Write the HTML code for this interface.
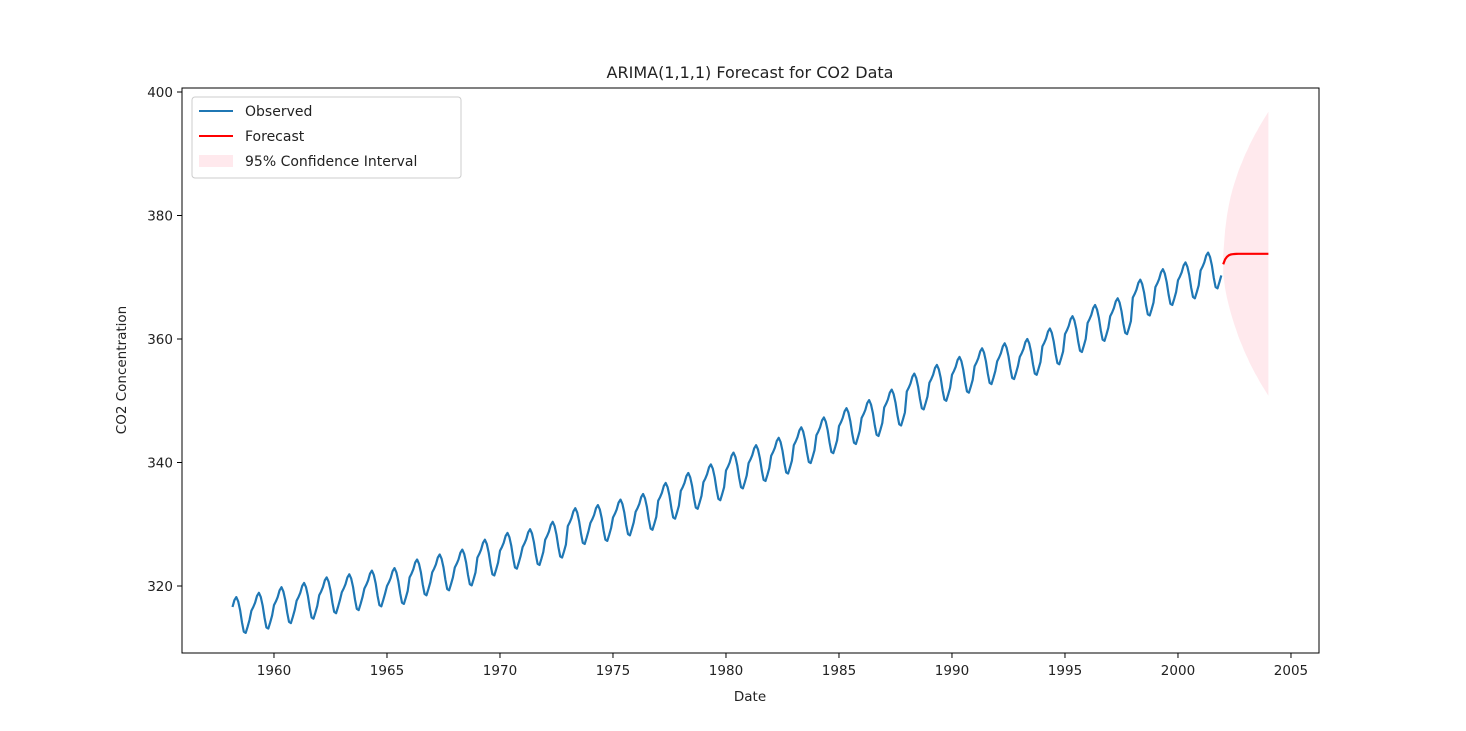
<!DOCTYPE html>
<html><head><meta charset="utf-8">
<style>
html,body{margin:0;padding:0;background:#fff;}
svg{display:block;font-family:"DejaVu Sans","Liberation Sans",sans-serif;}
</style></head>
<body>
<svg id="chart" width="1466" height="731" xmlns="http://www.w3.org/2000/svg">
<rect x="0" y="0" width="1466" height="731" fill="#fff"/>
<text x="750" y="78" text-anchor="middle" font-size="16" fill="#222">ARIMA(1,1,1) Forecast for CO2 Data</text>
<text x="750" y="701" text-anchor="middle" font-size="13.5" fill="#222">Date</text>
<text x="0" y="0" transform="translate(126,370) rotate(-90)" text-anchor="middle" font-size="13.5" fill="#222">CO2 Concentration</text>
<g id="plot"></g>
</svg>
<script>
// Data
const startYear = 1958;
const startMonth = 3; // March 1958
const annualMeans = [315.3,316.0,316.9,317.6,318.5,319.0,319.6,320.0,321.4,322.2,323.0,324.6,325.7,326.3,327.5,329.7,330.2,331.1,332.0,333.8,335.4,336.8,338.7,339.9,341.1,342.8,344.4,345.9,347.2,348.9,351.5,352.9,354.2,355.6,356.4,357.1,358.8,360.8,362.6,363.7,366.7,368.4,369.5,371.1];
const seasonalOffsets = [0.0,0.6,1.3,2.4,2.9,2.2,0.8,-1.2,-2.7,-2.9,-1.9,-0.8];
const forecastValues = [372.1,372.9,373.3,373.55,373.68,373.74,373.77,373.79,373.8,373.8,373.8,373.8,373.8,373.8,373.8,373.8,373.8,373.8,373.8,373.8,373.8,373.8,373.8,373.8,373.8];
const ciHalfWidth = [1.5,4.7,6.6,8.1,9.4,10.5,11.5,12.4,13.3,14.1,14.8,15.6,16.3,16.9,17.6,18.2,18.8,19.4,19.9,20.5,21.0,21.5,22.0,22.5,23.0];
const xTicks = [1960,1965,1970,1975,1980,1985,1990,1995,2000,2005];
const yTicks = [320,340,360,380,400];

const L=182,R=1319,T=88,B=653;
const xMin=1955.93,xMax=2006.24,yMin=309.15,yMax=400.65;
const xs=v=>L+(v-xMin)/(xMax-xMin)*(R-L);
const ys=v=>B-(v-yMin)/(yMax-yMin)*(B-T);
const NS="http://www.w3.org/2000/svg";
const g=document.getElementById('plot');
function mk(tag,attrs,parent){const e=document.createElementNS(NS,tag);for(const k in attrs)e.setAttribute(k,attrs[k]);(parent||g).appendChild(e);return e;}

const obs=[];
for(let i=0;i<annualMeans.length;i++){
  for(let m=0;m<12;m++){
    if(i===0&&m<startMonth-1)continue;
    obs.push([startYear+i+m/12,annualMeans[i]+seasonalOffsets[m]]);
  }
}
const fStart=2002.0;
let up=[],lo=[];
for(let k=0;k<forecastValues.length;k++){
  const t=fStart+k/12;
  up.push(xs(t).toFixed(1)+','+ys(forecastValues[k]+ciHalfWidth[k]).toFixed(1));
  lo.push(xs(t).toFixed(1)+','+ys(forecastValues[k]-ciHalfWidth[k]).toFixed(1));
}
const band=mk('polygon',{points:up.concat(lo.reverse()).join(' '),fill:'#ffc0cb',opacity:'0.35'});



const obsLine=mk('polyline',{points:obs.map(p=>xs(p[0]).toFixed(1)+','+ys(p[1]).toFixed(1)).join(' '),fill:'none',stroke:'#1f77b4','stroke-width':'2.2','stroke-linejoin':'round'});



const fLine=mk('polyline',{points:forecastValues.map((v,k)=>xs(fStart+k/12).toFixed(1)+','+ys(v).toFixed(1)).join(' '),fill:'none',stroke:'#ff0000','stroke-width':'2.2','stroke-linejoin':'round'});



const frame=mk('rect',{x:L,y:T,width:R-L,height:B-T,fill:'none',stroke:'#000','stroke-width':'1'});



xTicks.forEach(v=>{
  const x=xs(v);
  const tk=mk('line',{x1:x,y1:B,x2:x,y2:B+5,stroke:'#000'});
  
  
  const tx=mk('text',{x:x,y:B+22,'text-anchor':'middle','font-size':'13.5',fill:'#222'});
  tx.textContent=v;
  
  
});
yTicks.forEach(v=>{
  const y=ys(v);
  const tk=mk('line',{x1:L-5,y1:y,x2:L,y2:y,stroke:'#000'});
  
  
  const tx=mk('text',{x:L-9,y:y+5,'text-anchor':'end','font-size':'13.5',fill:'#222'});
  tx.textContent=v;
  
  
});

const lg=mk('g',{});


mk('rect',{x:192,y:97,width:269,height:81,rx:3,fill:'#fff',stroke:'#ccc','fill-opacity':'0.8'},lg);
const entries=[['Observed','line','#1f77b4',111],['Forecast','line','#ff0000',136],['95% Confidence Interval','patch','#ffc0cb',161]];
entries.forEach(e=>{
  const eg=mk('g',{},lg);
  
  
  if(e[1]==='line') mk('line',{x1:199,y1:e[3],x2:233,y2:e[3],stroke:e[2],'stroke-width':'2'},eg);
  else mk('rect',{x:199,y:e[3]-6,width:34,height:12,fill:e[2],opacity:'0.35'},eg);
  const t=mk('text',{x:245,y:e[3]+5,'font-size':'14',fill:'#222'},eg);
  t.textContent=e[0];
});
</script>
</body></html>
